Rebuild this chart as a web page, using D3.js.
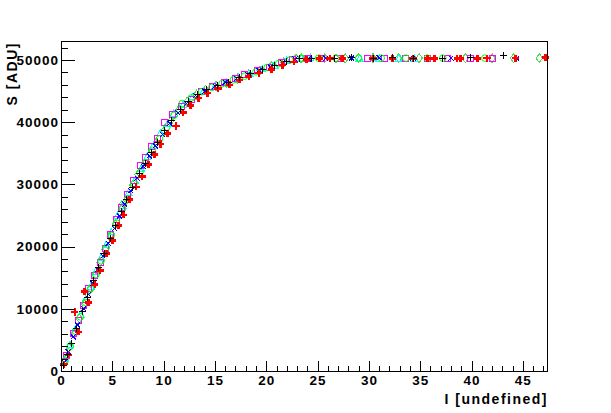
<!DOCTYPE html>
<html><head><meta charset="utf-8">
<script src="https://cdn.jsdelivr.net/npm/d3@7"></script>
<style>body{margin:0;background:#fff}</style>
</head><body><svg id="c" width="611" height="413"></svg>
<script>
const xTickValues = [0,5,10,15,20,25,30,35,40,45];
const yTickValues = [0,10000,20000,30000,40000,50000];
const xTitle = "I [undefined]";
const yTitle = "S [ADU]";

const blackI = [0.2,0.6,1.0,1.5,2.1,2.6,3.2,3.7,4.2,4.8,5.3,5.9,6.4,7.0,7.6,8.2,8.8,9.4,10.1,10.8,11.6,12.4,13.3,14.2,15.2,16.3,17.4,18.5,19.6,20.8,22.0,23.2,24.4,26.6,28.3,30.4,32.3,34.3,37.2,39.9,43.1];
const blackS = [900,2700,4400,6900,9500,11800,14500,16600,18900,21300,23400,25700,27600,29500,31700,33300,35200,36800,38700,40200,42100,43300,44500,45200,45900,46400,47200,47800,48500,49100,49800,50200,50300,50300,50350,50300,50350,50300,50300,50350,50650];

const redI = [0.3,0.7,1.35,1.7,2.3,2.7,3.3,3.8,4.45,5.0,5.6,6.1,6.7,7.3,7.9,8.5,9.1,9.7,10.4,11.2,11.9,12.6,13.4,14.3,15.3,16.4,17.4,18.3,19.3,20.5,21.6,22.7,23.9,25.2,26.2,27.4,30.4,32.3,34.3,35.7,36.4,38.6,38.9,40.6,41.5,44.3,47.2];
const redS = [1100,2600,9500,6300,12800,11000,13900,16200,18900,21000,23400,25100,27600,29600,31300,33200,34800,36500,38200,39400,41600,42700,43900,44700,45400,46000,46800,47300,47900,48500,49200,49700,50100,50200,50250,50250,50250,50200,50250,50250,50250,50250,50250,50250,50300,50300,50350];

const greenCircleI = [0.4,0.9,1.4,1.9,2.4,2.9,3.4,3.9,4.4,4.9,5.4,6.0,6.5,7.1,7.7,8.3,8.9,9.6,10.3,11.0,11.8,12.7,13.7,14.7,15.7,16.8,17.9,19.0,20.1,21.2,22.3,23.5,25.1,26.8,29.0,31.2,33.6,35.7,37.2,41.3];
const greenCircleS = [1700,4000,6400,8700,11000,13300,15500,17700,19800,21800,23800,26100,27700,30100,31900,33500,35500,37300,39200,41100,43000,43900,44900,45600,46200,46800,47400,48100,48800,49400,50000,50250,50300,50300,50300,50300,50300,50300,50300,50300];

const blueI = [0.3,0.7,1.2,1.6,2.2,2.7,3.1,3.6,4.1,4.6,5.2,5.7,6.2,6.8,7.4,8.0,8.6,9.2,9.9,10.6,11.4,12.2,13.1,14.0,15.0,16.0,17.1,18.2,19.3,20.4,21.6,22.8,24.1,25.8,28.3,31.0,34.3,38.0,44.4];
const blueS = [1400,3100,5500,7400,10000,12300,14100,16300,18500,20500,22900,24900,26800,29000,31000,32900,34600,36200,38000,39800,41500,43000,44300,45000,45800,46400,47000,47600,48300,48900,49600,50200,50200,50300,50300,50350,50300,50300,50300];

const magentaI = [0.5,1.2,1.7,2.2,2.7,3.3,3.8,4.3,4.8,5.4,5.9,6.5,7.1,7.7,8.2,8.8,9.4,10.1,10.9,11.7,12.7,13.7,14.8,15.9,17.0,17.9,19.1,20.3,21.5,22.6,24.0,25.4,26.9,29.9,31.5,33.6,35.7,37.7,39.9,42.0];
const magentaS = [2500,6100,8100,10500,13300,15300,17500,19700,21900,24300,26300,28400,30600,33000,34300,36100,37400,40000,41300,42600,43700,45000,45700,46300,47000,47600,48300,48800,49600,50100,50300,50300,50300,50250,50300,50300,50300,50300,50300,50300];

const cyanI = [0.4,0.9,1.4,1.9,2.4,2.9,3.4,3.9,4.4,4.9,5.5,6.0,6.6,7.2,7.8,8.4,9.0,9.7,10.4,11.0,11.9,12.8,13.9,15.0,16.1,17.3,18.4,19.6,20.8,22.0,23.4,24.3,29.1,31.0,32.9,34.4];
const cyanS = [1900,4200,6700,9000,11500,13600,16000,18200,20300,22300,24900,26500,28700,30600,32500,34400,36200,38200,39800,41400,42800,44000,45000,45800,46400,47100,47700,48500,49100,49900,50250,50300,50250,50250,50250,50250];

const diamondI = [0.3,0.8,1.3,1.8,2.3,2.8,3.3,3.8,4.3,4.8,5.3,5.9,6.4,7.0,7.5,8.1,8.7,9.3,10.0,10.7,11.5,12.3,13.2,14.1,15.1,16.1,17.2,18.3,19.4,20.5,21.7,22.9,23.4,25.7,26.8,27.7,29.0,30.4,32.9,34.9,39.4,42.0,44.1,46.6];
const diamondS = [1300,3700,6100,8400,10700,13000,15200,17500,19500,21500,23600,26600,27500,29900,31600,33300,35000,36800,38500,40200,42000,43300,44400,45200,45800,46300,47000,47700,48300,49000,49600,50200,50300,50300,50250,50250,50300,50300,50300,50300,50300,50300,50300,50300];

const svg = d3.select("#c");
svg.append("rect").attr("width",611).attr("height",413).attr("fill","#fff");

const L = 61, R = 548, T = 41, B = 371;
const x = d3.scaleLinear().domain([0, 47.45]).range([L, R]);
const y = d3.scaleLinear().domain([0, 53050]).range([B, T]);

const font = "'Liberation Sans', Arial, Helvetica, sans-serif";

const shapes = {
  plus: "M-3.5,0H3.5M0,-3.5V3.5",
  fcross: "M-1.3,-3.6H1.3V-1.3H3.6V1.3H1.3V3.6H-1.3V1.3H-3.6V-1.3H-1.3Z",
  times: "M-2.5,-2.5L2.5,2.5M-2.5,2.5L2.5,-2.5",
  square: "M-3,-3H3V3H-3Z",
  triangle: "M0,-3.8L3.5,2.6L-3.5,2.6Z",
  diamond: "M0,-4.5L3.2,0L0,4.5L-3.2,0Z"
};

const series = [
  {I: diamondI, S: diamondS, color: "#59d454", shape: "diamond", fill: false},
  {I: cyanI, S: cyanS, color: "#00ffff", shape: "triangle", fill: false},
  {I: magentaI, S: magentaS, color: "#ff00ff", shape: "square", fill: false},
  {I: greenCircleI, S: greenCircleS, color: "#00ff00", shape: "circle", fill: false},
  {I: blueI, S: blueS, color: "#0000ff", shape: "times", fill: false},
  {I: redI, S: redS, color: "#ff0000", shape: "fcross", fill: true},
  {I: blackI, S: blackS, color: "#000000", shape: "plus", fill: false}
];

const gPts = svg.append("g");
series.forEach(s => {
  const pts = s.I.map((v,i) => [v, s.S[i]]);
  const g = gPts.append("g");
  if (s.shape === "circle") {
    g.selectAll("circle").data(pts).join("circle")
      .attr("cx", d => x(d[0])).attr("cy", d => y(d[1])).attr("r", 3.3)
      .attr("fill","none").attr("stroke", s.color).attr("stroke-width",1);
  } else {
    g.selectAll("path").data(pts).join("path")
      .attr("transform", d => `translate(${x(d[0])},${y(d[1])})`)
      .attr("d", shapes[s.shape])
      .attr("fill", s.fill ? s.color : "none")
      .attr("stroke", s.fill ? "none" : s.color)
      .attr("stroke-width", 1)
      .attr("shape-rendering","crispEdges");
  }
});

svg.append("rect").attr("x", L+0.5).attr("y", T+0.5).attr("width", R-L-1).attr("height", B-T)
  .attr("fill","none").attr("stroke","#000").attr("stroke-width",1).attr("shape-rendering","crispEdges");

const xMinor = d3.range(0, 48).filter(v => v % 5 !== 0);
const yMinor = d3.range(0, 53001, 2000).filter(v => v % 10000 !== 0);

const xAxisMajor = d3.axisBottom(x).tickValues(xTickValues).tickSize(-10).tickPadding(4).tickFormat(d3.format("d"));
const xAxisMinor = d3.axisBottom(x).tickValues(xMinor).tickSize(-5).tickFormat("");
const yAxisMajor = d3.axisLeft(y).tickValues(yTickValues).tickSize(-14).tickPadding(2).tickFormat(d3.format("d"));
const yAxisMinor = d3.axisLeft(y).tickValues(yMinor).tickSize(-7).tickFormat("");

function style(g){
  g.select(".domain").remove();
  g.selectAll("line").attr("stroke","#000").attr("shape-rendering","crispEdges");
  g.selectAll("text").attr("font-family", font).attr("font-weight","bold")
    .attr("font-size","13.5px").attr("fill","#000").attr("letter-spacing","1px");
}
svg.append("g").attr("transform",`translate(0,${B})`).call(xAxisMinor).call(style);
svg.append("g").attr("transform",`translate(0,${B})`).call(xAxisMajor).call(style);
svg.append("g").attr("transform",`translate(${L},0)`).call(yAxisMinor).call(style);
svg.append("g").attr("transform",`translate(${L},0)`).call(yAxisMajor).call(style);

svg.append("text").attr("x", R).attr("y", 404).attr("text-anchor","end")
  .attr("font-family", font).attr("font-weight","bold").attr("font-size","14px")
  .attr("letter-spacing","1.5px").text(xTitle);
svg.append("text").attr("transform",`translate(17,${T+1}) rotate(-90)`).attr("text-anchor","end")
  .attr("font-family", font).attr("font-weight","bold").attr("font-size","14px")
  .attr("letter-spacing","1.5px").text(yTitle);
</script></body></html>
